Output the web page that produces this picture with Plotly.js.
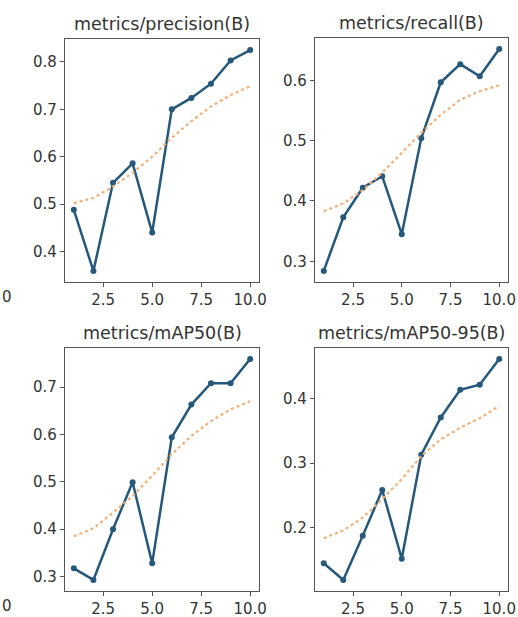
<!DOCTYPE html>
<html>
<head>
<meta charset="utf-8">
<script src="https://cdn.plot.ly/plotly-3.0.1.min.js"></script>
<style>html,body{margin:0;padding:0;background:#fff;}#chart{width:518px;height:617px;}</style>
</head>
<body>
<div id="chart"></div>
<script>
const epochs = [1, 2, 3, 4, 5, 6, 7, 8, 9, 10];
const titles = ["metrics/precision(B)", "metrics/recall(B)", "metrics/mAP50(B)", "metrics/mAP50-95(B)"];
const precision = [0.488, 0.359, 0.545, 0.586, 0.440, 0.700, 0.724, 0.754, 0.803, 0.825];
const precisionSmooth = [0.502, 0.513, 0.537, 0.566, 0.600, 0.640, 0.675, 0.706, 0.730, 0.749];
const recall = [0.284, 0.373, 0.422, 0.441, 0.345, 0.504, 0.597, 0.627, 0.607, 0.652];
const recallSmooth = [0.383, 0.396, 0.418, 0.447, 0.480, 0.513, 0.543, 0.568, 0.582, 0.592];
const map50 = [0.3175, 0.293, 0.400, 0.499, 0.328, 0.594, 0.663, 0.708, 0.708, 0.759];
const map50Smooth = [0.385, 0.402, 0.435, 0.470, 0.513, 0.558, 0.597, 0.628, 0.653, 0.670];
const map5095 = [0.144, 0.118, 0.187, 0.258, 0.151, 0.313, 0.371, 0.414, 0.422, 0.462];
const map5095Smooth = [0.183, 0.195, 0.215, 0.244, 0.275, 0.311, 0.337, 0.355, 0.370, 0.389];
const xTicks = [2.5, 5.0, 7.5, 10.0];
const xTickText = ["2.5", "5.0", "7.5", "10.0"];
const yTicks = [
  [0.4, 0.5, 0.6, 0.7, 0.8],
  [0.3, 0.4, 0.5, 0.6],
  [0.3, 0.4, 0.5, 0.6, 0.7],
  [0.2, 0.3, 0.4]
];

const series = [precision, recall, map50, map5095];
const smooth = [precisionSmooth, recallSmooth, map50Smooth, map5095Smooth];

const W = 518, H = 617;
// plot boxes in pixels: [x0, x1, yTop, yBottom]
const boxes = [
  [65, 259, 39, 282],
  [315, 508, 38, 282],
  [65, 259, 348, 591],
  [315, 508, 348, 591]
];

function yRange(a, b) {
  const all = a.concat(b);
  const mn = Math.min(...all), mx = Math.max(...all);
  const m = (mx - mn) * 0.05;
  return [mn - m, mx + m];
}

const data = [];
const layout = {
  width: W, height: H,
  margin: {l: 0, r: 0, t: 0, b: 0},
  paper_bgcolor: "#fff", plot_bgcolor: "#fff",
  showlegend: false,
  font: {family: "DejaVu Sans", color: "#333"},
  annotations: []
};

for (let i = 0; i < 4; i++) {
  const n = i === 0 ? "" : String(i + 1);
  const xa = "x" + n, ya = "y" + n;
  data.push({
    x: epochs, y: series[i], xaxis: xa, yaxis: ya,
    type: "scatter", mode: "lines+markers",
    line: {color: "#25587a", width: 2.5},
    marker: {color: "#25587a", size: 6}
  });
  data.push({
    x: epochs, y: smooth[i], xaxis: xa, yaxis: ya,
    type: "scatter", mode: "lines",
    line: {color: "#f2b07a", width: 2.2, dash: "dot"}
  });
  const b = boxes[i];
  const common = {
    showgrid: false, zeroline: false, showline: true, mirror: true,
    linecolor: "#555", linewidth: 1.2,
    ticks: "outside", ticklen: 4, tickcolor: "#555", tickwidth: 1,
    tickfont: {family: "DejaVu Sans", size: 15, color: "#333"}
  };
  layout["xaxis" + n] = Object.assign({}, common, {
    domain: [b[0] / W, b[1] / W],
    anchor: ya,
    range: [0.55, 10.45],
    tickmode: "array", tickvals: xTicks, ticktext: xTickText
  });
  layout["yaxis" + n] = Object.assign({}, common, {
    domain: [1 - b[3] / H, 1 - b[2] / H],
    anchor: xa,
    range: yRange(series[i], smooth[i]),
    tickmode: "array", tickvals: yTicks[i], ticktext: yTicks[i].map(v => v.toFixed(1))
  });
  layout.annotations.push({
    text: titles[i], xref: "paper", yref: "paper",
    x: (b[0] + b[1]) / 2 / W, y: 1 - (b[2] - 3) / H,
    xanchor: "center", yanchor: "bottom", showarrow: false,
    font: {family: "DejaVu Sans", size: 17.5, color: "#333"}
  });
}
// remnants of neighbouring panel tick labels at the left edge
layout.annotations.push({
  text: "0", xref: "paper", yref: "paper", x: 0, y: 1 - 297 / H,
  xanchor: "left", yanchor: "middle", showarrow: false,
  font: {family: "DejaVu Sans", size: 15, color: "#333"}
});
layout.annotations.push({
  text: "0", xref: "paper", yref: "paper", x: 0, y: 1 - 606 / H,
  xanchor: "left", yanchor: "middle", showarrow: false,
  font: {family: "DejaVu Sans", size: 15, color: "#333"}
});

Plotly.newPlot("chart", data, layout, {staticPlot: true});
</script>
</body>
</html>
